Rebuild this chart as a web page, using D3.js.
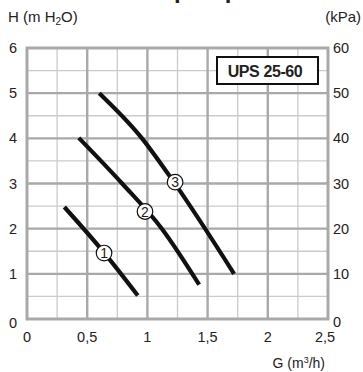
<!DOCTYPE html>
<html>
<head>
<meta charset="utf-8">
<script src="https://cdn.jsdelivr.net/npm/d3@7"></script>
<style>
  body { margin: 0; background: #fff; }
  text { font-family: "Liberation Sans", Arial, sans-serif; fill: #222; }
</style>
</head>
<body>
<div id="chart"></div>
<script>
// pump curves, flow G (m3/h) vs head H (m H2O)
const curve1 = [[0.31, 2.48], [0.64, 1.47], [0.92, 0.52]];
const curve2 = [[0.43, 4.01], [0.79, 3.0], [1.12, 2.0], [1.43, 0.76]];
const curve3 = [[0.6, 5.0], [0.94, 4.05], [1.22, 3.03], [1.72, 1.0]];
const curveLabels = [["1", 0.64, 1.46], ["2", 0.98, 2.38], ["3", 1.23, 3.03]];
const xTicks = [0, 0.5, 1, 1.5, 2, 2.5];
const yTicks = [0, 1, 2, 3, 4, 5, 6];
const kpaTicks = [0, 10, 20, 30, 40, 50, 60];
const modelName = "UPS 25-60";

const width = 363, height = 372;
const svg = d3.select("#chart").append("svg")
  .attr("width", width)
  .attr("height", height);

const x = d3.scaleLinear().domain([0, 2.5]).range([27, 328]);
const y = d3.scaleLinear().domain([0, 6]).range([319, 48]);
const yk = d3.scaleLinear().domain([0, 60]).range([319, 48]);

// title cut off at the top, only descenders show
svg.append("text")
  .attr("x", 174).attr("y", -2)
  .attr("font-size", 24).attr("font-weight", "bold")
  .text("pump");

// grid
const minorX = d3.range(0.25, 2.5, 0.5);
const majorX = d3.range(0.5, 2.5, 0.5);
const minorY = d3.range(0.5, 6, 1);
const majorY = d3.range(1, 6, 1);

const grid = svg.append("g");
grid.selectAll(".mx").data(minorX).enter().append("line")
  .attr("x1", d => x(d)).attr("x2", d => x(d))
  .attr("y1", y(0)).attr("y2", y(6))
  .attr("stroke", "#cbcbcb").attr("stroke-width", 1.3);
grid.selectAll(".my").data(minorY).enter().append("line")
  .attr("x1", x(0)).attr("x2", x(2.5))
  .attr("y1", d => y(d)).attr("y2", d => y(d))
  .attr("stroke", "#cbcbcb").attr("stroke-width", 1.3);
grid.selectAll(".Mx").data(majorX).enter().append("line")
  .attr("x1", d => x(d)).attr("x2", d => x(d))
  .attr("y1", y(0)).attr("y2", y(6))
  .attr("stroke", "#a9a9a9").attr("stroke-width", 2.4);
grid.selectAll(".My").data(majorY).enter().append("line")
  .attr("x1", x(0)).attr("x2", x(2.5))
  .attr("y1", d => y(d)).attr("y2", d => y(d))
  .attr("stroke", "#a9a9a9").attr("stroke-width", 2.4);
grid.append("rect")
  .attr("x", x(0)).attr("y", y(6))
  .attr("width", x(2.5) - x(0)).attr("height", y(0) - y(6))
  .attr("fill", "none").attr("stroke", "#a9a9a9").attr("stroke-width", 3);

// model box
svg.append("rect")
  .attr("x", 217).attr("y", 57).attr("width", 101).attr("height", 27)
  .attr("fill", "#fff").attr("stroke", "#111").attr("stroke-width", 2);
svg.append("text")
  .attr("x", 265).attr("y", 76.5)
  .attr("text-anchor", "middle")
  .attr("font-size", 16).attr("font-weight", "bold")
  .attr("letter-spacing", -0.4)
  .text(modelName);

// curves
const line = d3.line()
  .x(d => x(d[0])).y(d => y(d[1]))
  .curve(d3.curveMonotoneX);
svg.selectAll(".curve").data([curve1, curve2, curve3]).enter().append("path")
  .attr("d", line)
  .attr("fill", "none").attr("stroke", "#111").attr("stroke-width", 4.2);

const lab = svg.selectAll(".lab").data(curveLabels).enter().append("g")
  .attr("transform", d => `translate(${x(d[1])},${y(d[2])})`);
lab.append("circle").attr("r", 7.8)
  .attr("fill", "#fff").attr("stroke", "#111").attr("stroke-width", 1.2);
lab.append("text")
  .attr("text-anchor", "middle").attr("dy", "0.36em")
  .attr("font-size", 14)
  .text(d => d[0]);

// axes
const fmt = d => String(d).replace(".", ",");
const ax = svg.append("g").attr("font-size", 14.5);
ax.selectAll(".yl").data(yTicks).enter().append("text")
  .attr("x", 17).attr("y", d => y(d) + (d === 0 ? 4 : 0))
  .attr("dy", "0.35em").attr("text-anchor", "end")
  .text(d => d);
ax.selectAll(".yr").data(kpaTicks).enter().append("text")
  .attr("x", 333).attr("y", d => yk(d) + (d === 0 ? 3 : 0))
  .attr("dy", "0.35em")
  .text(d => d);
ax.selectAll(".xl").data(xTicks).enter().append("text")
  .attr("x", d => x(d) - (d === 2.5 ? 3 : 0)).attr("y", 337)
  .attr("dy", "0.35em").attr("text-anchor", "middle")
  .text(fmt);

const hl = svg.append("text").attr("x", 8).attr("y", 22).attr("font-size", 15);
hl.append("tspan").text("H (m H");
hl.append("tspan").attr("font-size", 10).attr("dy", 3).text("2");
hl.append("tspan").attr("dy", -3).text("O)");

svg.append("text").attr("x", 361).attr("y", 22)
  .attr("text-anchor", "end").attr("font-size", 15).text("(kPa)");

const gl = svg.append("text").attr("x", 325).attr("y", 368)
  .attr("text-anchor", "end").attr("font-size", 14);
gl.append("tspan").text("G (m");
gl.append("tspan").attr("font-size", 9).attr("dy", -5).text("3");
gl.append("tspan").attr("dy", 5).text("/h)");
</script>
</body>
</html>
